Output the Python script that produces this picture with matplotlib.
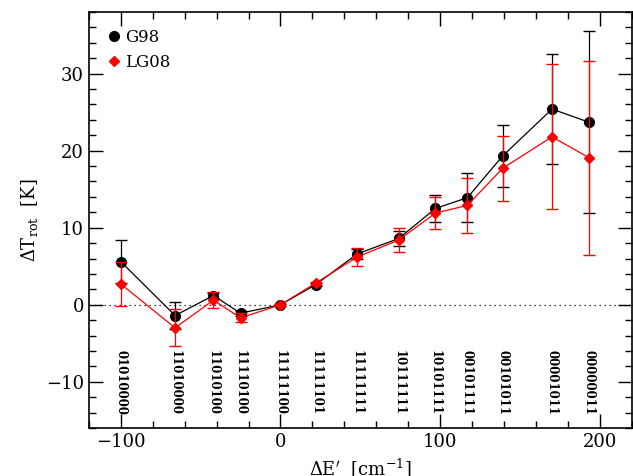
# Rotational temperature offsets vs. energy shift, G98 and LG08
import matplotlib
matplotlib.use('Agg')
import matplotlib.pyplot as plt
from matplotlib.lines import Line2D
from matplotlib.ticker import MultipleLocator

plt.rcParams['font.family'] = 'DejaVu Serif'
plt.rcParams['mathtext.fontset'] = 'dejavuserif'

# Data
dE = [-100, -66, -42, -25, 0, 22, 48, 74, 97, 117, 139, 170, 193]
g98 = [5.6, -1.4, 1.2, -1.1, 0.0, 2.6, 6.6, 8.6, 12.5, 13.9, 19.3, 25.4, 23.7]
g98_err = [2.8, 1.8, 0.3, 0.3, 0.1, 0.2, 0.7, 1.0, 1.8, 3.15, 4.0, 7.1, 11.8]
lg08 = [2.7, -3.0, 0.6, -1.7, 0.0, 2.8, 6.2, 8.4, 11.9, 12.9, 17.7, 21.8, 19.1]
lg08_err = [2.8, 2.4, 1.0, 0.6, 0.1, 0.2, 1.2, 1.5, 2.1, 3.6, 4.2, 9.4, 12.6]
codes = ['01010000', '11010000', '11010100', '11110100', '11111100',
         '11111101', '11111111', '10111111', '10101111', '00101111',
         '00101011', '00001011', '00000011']

fig = plt.figure(figsize=(6.33, 4.76), dpi=100)
ax = fig.add_axes([0.1403, 0.1008, 0.858, 0.874])

ax.axhline(0, color='black', linestyle=(0, (1, 3)), linewidth=0.9, zorder=1)

ax.errorbar(dE, g98, yerr=g98_err, color='black', marker='o', markersize=7,
            linewidth=0.9, elinewidth=0.9, capsize=4, zorder=2)
ax.errorbar(dE, lg08, yerr=lg08_err, color='red', marker='D', markersize=5,
            linewidth=0.9, elinewidth=0.9, capsize=4, zorder=3)

for x, code in zip(dE, codes):
    ax.text(x, -14.3, code, rotation=270, ha='center', va='bottom',
            fontsize=8.5, fontweight='bold')

ax.set_xlim(-120, 220)
ax.set_ylim(-16, 38)
ax.xaxis.set_major_locator(MultipleLocator(100))
ax.xaxis.set_minor_locator(MultipleLocator(20))
ax.yaxis.set_major_locator(MultipleLocator(10))
ax.yaxis.set_minor_locator(MultipleLocator(2))
ax.tick_params(which='both', direction='in', top=True, right=True,
               labelsize=13, width=1)
ax.tick_params(which='major', length=10)
ax.tick_params(which='minor', length=5)
for s in ax.spines.values():
    s.set_linewidth(1.2)

ax.set_xlabel(r"$\Delta\mathrm{E}'$  [cm$^{-1}$]", fontsize=13, labelpad=4)
ax.set_ylabel(r"$\Delta\mathrm{T}_{\mathrm{rot}}$  [K]", fontsize=13)

handles = [Line2D([], [], color='black', marker='o', markersize=7, linestyle='none'),
           Line2D([], [], color='red', marker='D', markersize=5, linestyle='none')]
ax.legend(handles, ['G98', 'LG08'], loc='upper left', frameon=False, fontsize=12,
          handletextpad=0.2, handlelength=1.0, borderaxespad=0.6)

fig.savefig('out.png', dpi=100)
